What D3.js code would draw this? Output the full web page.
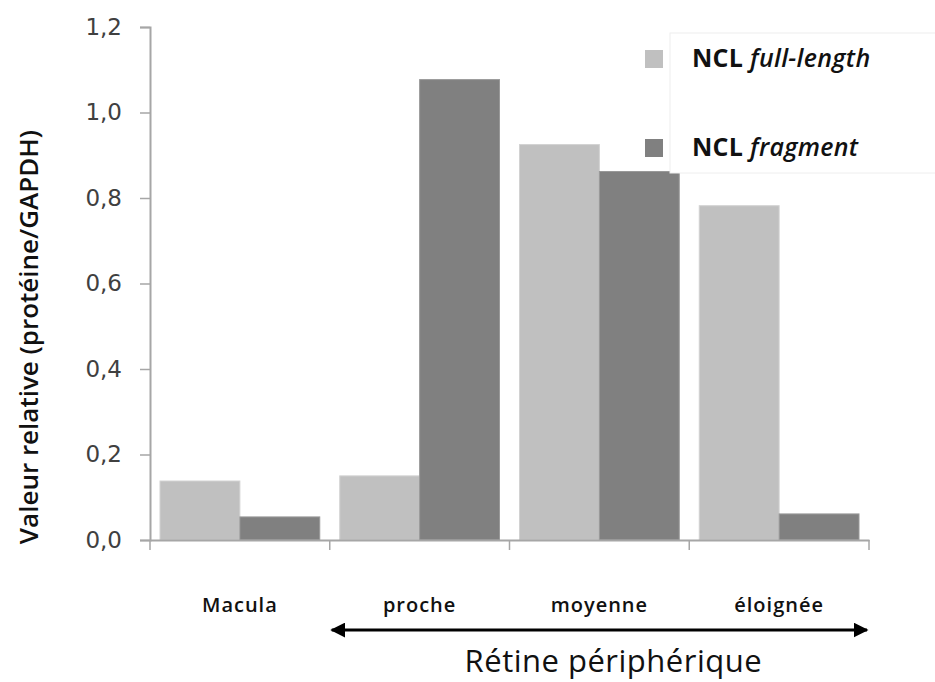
<!DOCTYPE html>
<html>
<head>
<meta charset="utf-8">
<script src="https://cdn.jsdelivr.net/npm/d3@7"></script>
<style>
  body { margin: 0; background: #fff; }
  text { font-family: "Open Sans", sans-serif; }
</style>
</head>
<body>
<div id="chart-area"></div>
<script>
// Data
var categories = ["Macula", "proche", "moyenne", "éloignée"];
var seriesNames = ["full-length", "fragment"];
var fullLength = [0.138, 0.150, 0.925, 0.782];
var fragment = [0.054, 1.077, 0.862, 0.061];
var yTicks = [0, 0.2, 0.4, 0.6, 0.8, 1.0, 1.2];

var data = categories.map((c, i) => {
    return {name: c, values: [fullLength[i], fragment[i]]};
});

var width = 935, height = 682;
var margin = {top: 27, left: 150, right: 66, bottom: 142};
var innerW = width - margin.left - margin.right;
var innerH = height - margin.top - margin.bottom;

var svg = d3.select("#chart-area")
    .append("svg")
    .attr("width", width)
    .attr("height", height);

var g = svg.append("g")
    .attr("transform", "translate(" + margin.left + ", " + margin.top + ")");

// Scales
var x = d3.scaleBand()
    .domain(categories)
    .range([0, innerW]);

var x1 = d3.scaleBand()
    .domain(seriesNames)
    .range([10, x.bandwidth() - 10]);

var y = d3.scaleLinear()
    .domain([0, 1.2])
    .range([innerH, 0]);

var color = d3.scaleOrdinal()
    .domain(seriesNames)
    .range(["#c0c0c0", "#808080"]);

// Bars
var groups = g.selectAll(".cat")
    .data(data)
    .enter().append("g")
    .attr("class", "cat")
    .attr("transform", (d) => { return "translate(" + x(d.name) + ",0)"; });

groups.selectAll("rect")
    .data((d) => { return d.values.map((v, i) => ({key: seriesNames[i], v: v})); })
    .enter().append("rect")
    .attr("x", (d) => x1(d.key))
    .attr("y", (d) => y(d.v))
    .attr("width", x1.bandwidth())
    .attr("height", (d) => innerH - y(d.v))
    .attr("fill", (d) => color(d.key))
    .attr("stroke", (d) => d.key == "fragment" ? "#999" : "#d2d2d2")
    .attr("stroke-width", 1);

// Axes
var leftAxis = d3.axisLeft(y)
    .tickValues(yTicks)
    .tickSize(10)
    .tickPadding(18)
    .tickFormat((d) => d3.format(".1f")(d).replace(".", ","));
var yAx = g.append("g").attr("class", "left axis").call(leftAxis);
yAx.select(".domain").attr("stroke", "#a6a6a6").attr("stroke-width", 2);
yAx.selectAll(".tick line").attr("stroke", "#a6a6a6").attr("stroke-width", 1.5);
yAx.selectAll("text")
    .style("font-family", "'DejaVu Sans', sans-serif")
    .style("font-size", "23px")
    .attr("fill", "#404040");

var bottomAxis = d3.axisBottom(x).tickSize(0).tickFormat("");
var xAx = g.append("g")
    .attr("class", "bottom axis")
    .attr("transform", "translate(0, " + innerH + ")")
    .call(bottomAxis);
xAx.select(".domain").attr("stroke", "#a6a6a6").attr("stroke-width", 2);
// ticks between categories
var bounds = categories.map((c) => x(c)).concat([innerW]);
xAx.selectAll(".sep")
    .data(bounds)
    .enter().append("line")
    .attr("x1", (d) => d).attr("x2", (d) => d)
    .attr("y1", 0).attr("y2", 10)
    .attr("stroke", "#a6a6a6")
    .attr("stroke-width", 1.5);

// Category labels
g.selectAll(".cat-label")
    .data(categories)
    .enter().append("text")
    .attr("class", "cat-label")
    .attr("x", (d) => x(d) + x.bandwidth() / 2)
    .attr("y", innerH + 72)
    .attr("text-anchor", "middle")
    .attr("font-size", "20px")
    .attr("letter-spacing", "1px")
    .attr("font-weight", "600")
    .attr("fill", "#111")
    .text((d) => d);

// Y axis label
svg.append("text")
    .attr("transform", "rotate(-90)")
    .attr("x", -337)
    .attr("y", 38)
    .attr("text-anchor", "middle")
    .attr("font-size", "26px")
    .attr("font-weight", "600")
    .attr("fill", "#111")
    .text("Valeur relative (protéine/GAPDH)");

// Arrow under peripheral retina
var defs = svg.append("defs");
defs.append("marker")
    .attr("id", "arrow")
    .attr("viewBox", "0 0 10 10")
    .attr("refX", 9).attr("refY", 5)
    .attr("markerWidth", 5).attr("markerHeight", 5)
    .attr("orient", "auto-start-reverse")
    .append("path")
    .attr("d", "M0,0 L10,5 L0,10 z")
    .attr("fill", "#000");

g.append("line")
    .attr("x1", x("proche") + 2)
    .attr("x2", innerW - 2)
    .attr("y1", innerH + 90)
    .attr("y2", innerH + 90)
    .attr("stroke", "#000")
    .attr("stroke-width", 3)
    .attr("marker-start", "url(#arrow)")
    .attr("marker-end", "url(#arrow)");

g.append("text")
    .attr("x", x("moyenne") + x.bandwidth() / 2 + 14)
    .attr("y", innerH + 132)
    .attr("text-anchor", "middle")
    .attr("font-size", "31px")
    .attr("letter-spacing", "0.5px")
    .attr("fill", "#111")
    .text("Rétine périphérique");

// Legend
var legend = svg.append("g").attr("class", "legend");
legend.append("rect")
    .attr("x", 670).attr("y", 33)
    .attr("width", 280).attr("height", 140)
    .attr("fill", "#fff")
    .attr("stroke", "#eee");

var legendY = [59, 148];
seriesNames.forEach((s, i) => {
    legend.append("rect")
        .attr("x", 645).attr("y", legendY[i] - 9)
        .attr("width", 18).attr("height", 18)
        .attr("fill", color(s));
    var t = legend.append("text")
        .attr("x", 692).attr("y", legendY[i] + 8)
        .attr("font-size", "25px")
        .attr("font-weight", "700")
        .attr("letter-spacing", "0.3px")
        .attr("fill", "#111");
    t.append("tspan").text("NCL ");
    t.append("tspan").attr("font-style", "italic").attr("font-weight", "600").text(s);
});
</script>
</body>
</html>
